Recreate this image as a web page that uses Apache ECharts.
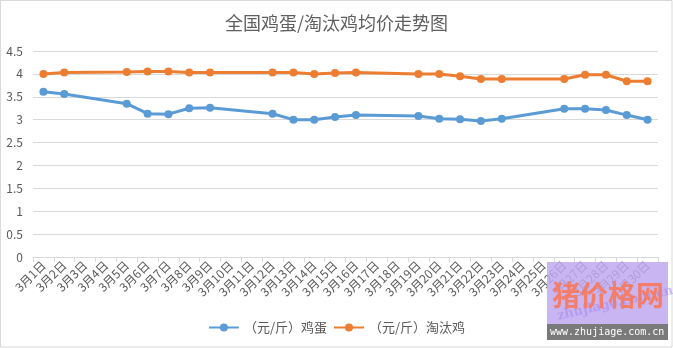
<!DOCTYPE html>
<html>
<head>
<meta charset="utf-8">
<script src="https://cdn.jsdelivr.net/npm/echarts@6/dist/echarts.min.js"></script>
<style>
html,body{margin:0;padding:0;background:#fff;}
#c{width:673px;height:348px;}
</style>
</head>
<body>
<div id="c"></div>
<script>
var categories = [];
for (var d = 1; d <= 30; d++) categories.push('3月' + d + '日');

var eggPrice = [3.61, 3.56, null, null, 3.35, 3.13, 3.12, 3.25, 3.26, null, null, 3.13, 3.00, 3.00, 3.06,
  3.10, null, null, 3.08, 3.02, 3.01, 2.97, 3.02, null, null, 3.24, 3.24, 3.21, 3.10, 3.00];
var henPrice = [4.00, 4.03, null, null, 4.04, 4.05, 4.05, 4.03, 4.03, null, null, 4.03, 4.03, 4.00, 4.02,
  4.03, null, null, 4.00, 4.00, 3.95, 3.89, 3.89, null, null, 3.89, 3.98, 3.98, 3.84, 3.84];
var seriesNames = ['（元/斤）鸡蛋', '（元/斤）淘汰鸡'];
var titleText = '全国鸡蛋/淘汰鸡均价走势图';

var chart = echarts.init(document.getElementById('c'));
var font = '"Noto Sans CJK SC", "Noto Sans", sans-serif';
chart.setOption({
  animation: false,
  backgroundColor: '#fff',
  title: {
    text: titleText,
    left: 'center',
    top: 9,
    textStyle: {fontFamily: font, fontSize: 18, fontWeight: 'normal', color: '#5f5f5f'}
  },
  legend: {
    bottom: 9,
    left: 'center',
    itemWidth: 30,
    itemHeight: 10,
    itemGap: 6,
    textStyle: {fontFamily: font, fontSize: 13, color: '#595959'},
    data: seriesNames
  },
  grid: {left: 33, right: 15, top: 51, bottom: 91},
  xAxis: {
    type: 'category',
    data: categories,
    boundaryGap: true,
    axisLine: {lineStyle: {color: '#d9d9d9', width: 1}},
    axisTick: {show: true, alignWithLabel: false, length: 5, lineStyle: {color: '#d9d9d9'}},
    axisLabel: {rotate: 45, interval: 0, fontFamily: font, fontSize: 12, color: '#595959', margin: 6}
  },
  yAxis: {
    type: 'value',
    min: 0, max: 4.5, interval: 0.5,
    axisLine: {show: false},
    axisTick: {show: false},
    splitLine: {lineStyle: {color: '#d9d9d9', width: 1}},
    axisLabel: {fontFamily: font, fontSize: 12, color: '#595959', margin: 10}
  },
  series: [
    {
      name: seriesNames[0], type: 'line', data: eggPrice, connectNulls: true,
      symbol: 'circle', symbolSize: 8,
      itemStyle: {color: '#5b9bd5'},
      lineStyle: {color: '#5b9bd5', width: 3}
    },
    {
      name: seriesNames[1], type: 'line', data: henPrice, connectNulls: true,
      symbol: 'circle', symbolSize: 8,
      itemStyle: {color: '#ed7d31'},
      lineStyle: {color: '#ed7d31', width: 3}
    }
  ],
  graphic: [
    {type: 'rect', shape: {x: 0.5, y: 0.5, width: 671.5, height: 346.5},
      style: {fill: 'none', stroke: '#d9d9d9', lineWidth: 1}, silent: true},
    {type: 'rect', z: 100, shape: {x: 547, y: 262, width: 121, height: 62}, style: {fill: 'rgba(190,168,240,0.85)'}},
    {type: 'text', z: 101, x: 556, y: 310, rotation: 0.22, style: {text: 'zhujiage.com.cn', fill: 'rgba(165,135,240,0.55)', font: 'bold 13px "DejaVu Serif", serif'}},
    {type: 'text', z: 102, x: 552, y: 281, style: {text: '猪价格网', fill: 'rgba(248,120,90,0.9)', font: 'bold 28px "Noto Sans CJK SC", sans-serif'}},
    {type: 'rect', z: 100, shape: {x: 547, y: 324, width: 121, height: 16}, style: {fill: '#7a7a7a'}},
    {type: 'text', z: 101, x: 550, y: 327, style: {text: 'www.zhujiage.com.cn', fill: '#fff', font: '10px "DejaVu Sans Mono", monospace'}}
  ]
});
</script>
</body>
</html>
